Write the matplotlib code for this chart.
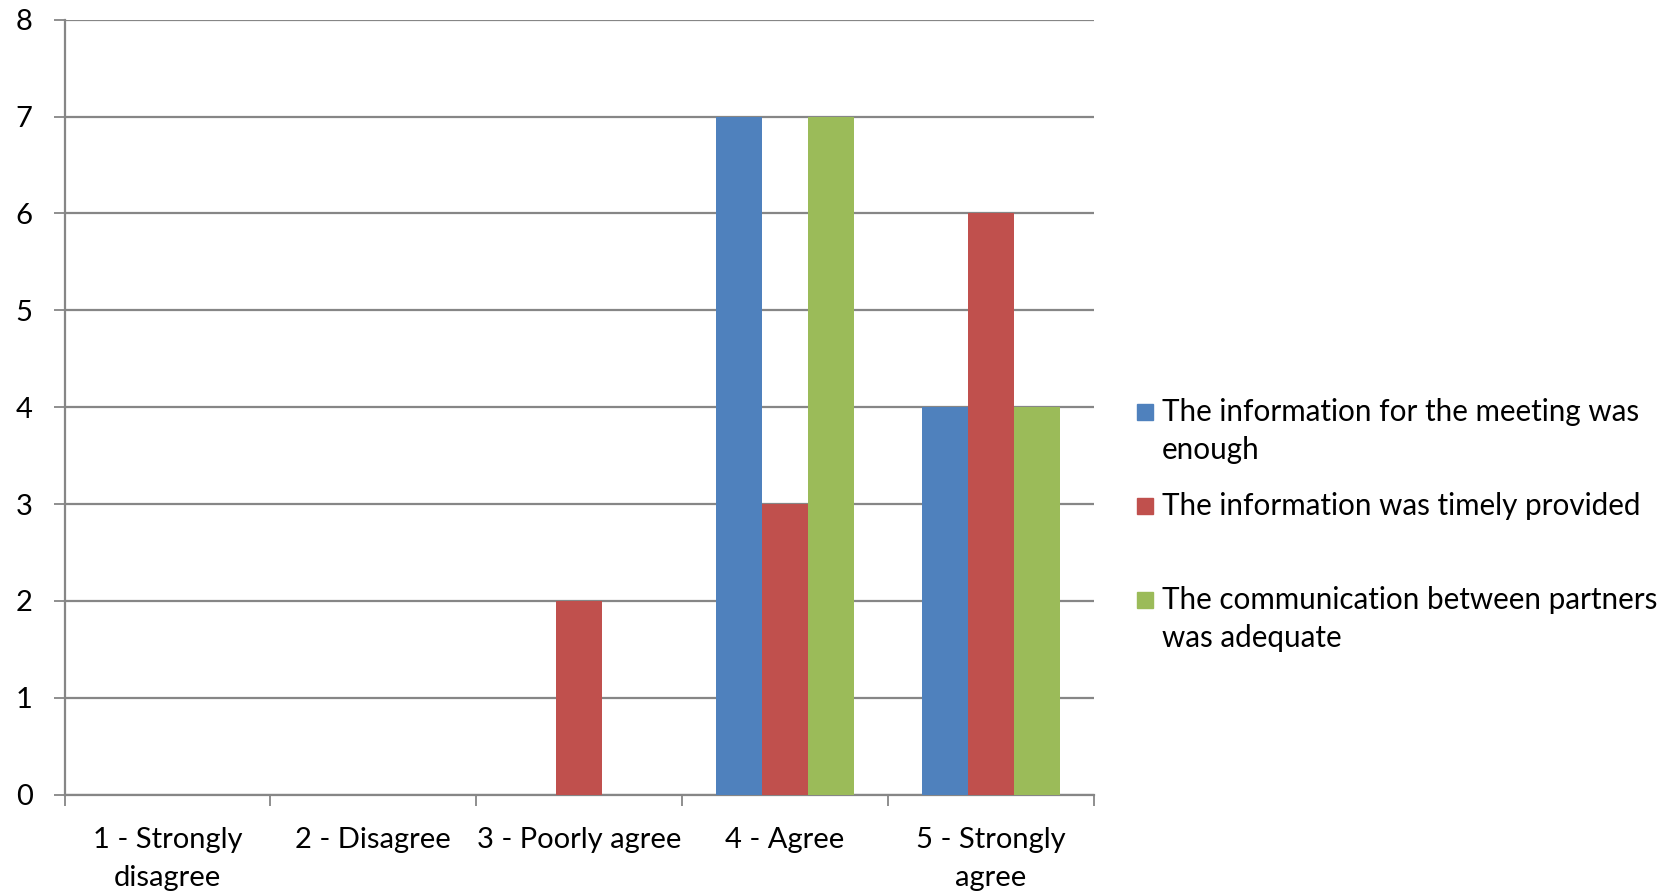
import numpy as np
import matplotlib.pyplot as plt
from matplotlib.patches import Rectangle

plt.rcParams['font.family'] = ['Lato', 'DejaVu Sans']

# survey answers
categories = ['1 - Strongly\ndisagree', '2 - Disagree', '3 - Poorly agree',
              '4 - Agree', '5 - Strongly\nagree']
info_enough = [0, 0, 0, 7, 4]
info_timely = [0, 0, 2, 3, 6]
communication = [0, 0, 0, 7, 4]

series_labels = ['The information for the meeting was\nenough',
                 'The information was timely provided',
                 'The communication between partners\nwas adequate']
colors = ['#4F81BD', '#C0504D', '#9BBB59']
grid_col = '#868686'
fs = 21

fig = plt.figure(figsize=(16.77, 8.93), dpi=100)
ax = fig.add_axes([0.0385, 0.110, 0.6138, 0.868])

x = np.arange(len(categories))
w = 1 / 4.5
for i, vals in enumerate([info_enough, info_timely, communication]):
    ax.bar(x + (i - 1) * w, vals, width=w, color=colors[i], zorder=3)

ax.set_xlim(-0.5, len(categories) - 0.5)
ax.set_ylim(0, 8)
ax.set_yticks(range(0, 9))
ax.yaxis.grid(True, color=grid_col, linewidth=1.6, zorder=0)
ax.set_axisbelow(True)

# category labels between the tick marks
ax.set_xticks(np.arange(len(categories) + 1) - 0.5)
ax.set_xticklabels([])
ax.set_xticks(x, minor=True)
ax.set_xticklabels(categories, minor=True, fontsize=fs, linespacing=1.6)
ax.tick_params(axis='x', which='minor', length=0, pad=23)
ax.tick_params(axis='x', which='major', length=8, width=1.3, color=grid_col, direction='out')
ax.tick_params(axis='y', length=8, width=1.3, color=grid_col, labelsize=fs, pad=15)

for s in ['top', 'right']:
    ax.spines[s].set_visible(False)
for s in ['left', 'bottom']:
    ax.spines[s].set_color(grid_col)
    ax.spines[s].set_linewidth(1.6)

# legend drawn like the Excel one: each entry takes two lines
W, H = 1677, 893
first_line = 412
pitch = 94
step = 38.5
for i, lab in enumerate(series_labels):
    y0 = first_line + i * pitch
    fig.patches.append(Rectangle((1137 / W, 1 - (y0 + 8) / H), 16 / W, 16 / H,
                                 transform=fig.transFigure, color=colors[i]))
    for j, line in enumerate(lab.split('\n')):
        fig.text(1162 / W, 1 - (y0 + j * step) / H, line, fontsize=21.3,
                 va='center', ha='left')

plt.savefig('out.png', dpi=100)
